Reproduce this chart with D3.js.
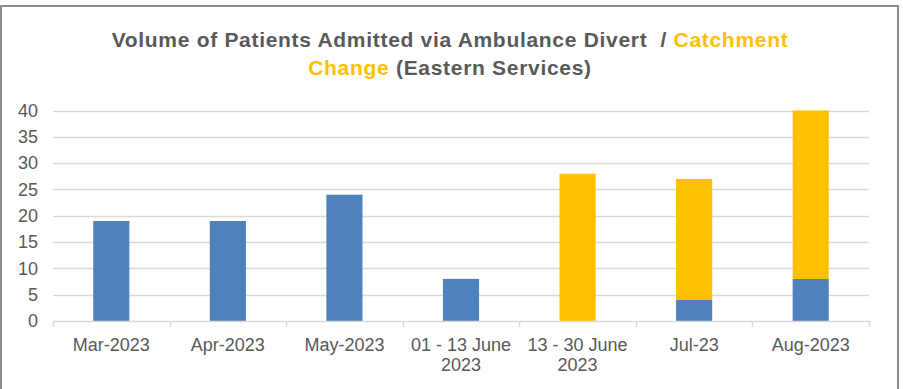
<!DOCTYPE html>
<html>
<head>
<meta charset="utf-8">
<script src="https://cdn.jsdelivr.net/npm/d3@7"></script>
<style>
  html, body { margin: 0; padding: 0; background: #fff; }
  svg { display: block; font-family: "Liberation Sans", Arial, sans-serif; }
</style>
</head>
<body>
<svg id="chart" width="903" height="389"></svg>
<script>
// Monthly admissions, split by reason
const categories = ["Mar-2023", "Apr-2023", "May-2023", "01 - 13 June 2023", "13 - 30 June 2023", "Jul-23", "Aug-2023"];
const categoryLines = [["Mar-2023"], ["Apr-2023"], ["May-2023"], ["01 - 13 June", "2023"], ["13 - 30 June", "2023"], ["Jul-23"], ["Aug-2023"]];
const ambulanceDivert = [19, 19, 24, 8, 0, 4, 8];
const catchmentChange = [0, 0, 0, 0, 28, 23, 32];
const yTicks = [0, 5, 10, 15, 20, 25, 30, 35, 40];
const seriesKeys = ["Ambulance Divert", "Catchment Change"];
const seriesColors = ["#4F81BD", "#FFC000"];

const svg = d3.select("#chart");
const textColor = "#595959";
const gridColor = "#D9D9D9";

// outer frame
svg.append("rect")
  .attr("x", 1).attr("y", 6)
  .attr("width", 897).attr("height", 400)
  .attr("fill", "none").attr("stroke", "#8C8C8C").attr("stroke-width", 2);

// title
const title = svg.append("text")
  .attr("text-anchor", "middle")
  .attr("font-weight", "bold")
  .attr("font-size", 21)
  .attr("letter-spacing", 0.7)
  .attr("fill", textColor)
  .attr("xml:space", "preserve");
const t1 = title.append("tspan").attr("x", 450).attr("y", 47);
t1.append("tspan").text("Volume of Patients Admitted via Ambulance Divert  / ");
t1.append("tspan").attr("fill", "#FFC000").text("Catchment");
const t2 = title.append("tspan").attr("x", 450).attr("y", 74.5);
t2.append("tspan").attr("fill", "#FFC000").text("Change");
t2.append("tspan").text(" (Eastern Services)");

// scales
const x = d3.scaleBand().domain(categories).range([53, 869]).paddingInner(0.69).paddingOuter(0.345);
const y = d3.scaleLinear().domain([0, 40]).range([321, 110.5]);

// gridlines
svg.append("g")
  .selectAll("line")
  .data(yTicks.filter(d => d > 0))
  .join("line")
  .attr("x1", 53).attr("x2", 869)
  .attr("y1", d => Math.round(y(d)) + 0.5).attr("y2", d => Math.round(y(d)) + 0.5)
  .attr("stroke", gridColor).attr("stroke-width", 1.5);

// y axis labels
const yAxis = d3.axisLeft(y).tickValues(yTicks).tickSize(0).tickPadding(0);
svg.append("g")
  .attr("transform", "translate(38,0)")
  .call(yAxis)
  .call(g => g.select(".domain").remove())
  .call(g => g.selectAll("text")
    .attr("font-size", 18)
    .attr("font-family", "Liberation Sans, Arial, sans-serif")
    .attr("fill", textColor));

// stacked bars
const rows = categories.map((c, i) => ({ category: c, "Ambulance Divert": ambulanceDivert[i], "Catchment Change": catchmentChange[i] }));
const stacked = d3.stack().keys(seriesKeys)(rows);
svg.append("g")
  .selectAll("g")
  .data(stacked)
  .join("g")
  .attr("fill", (d, i) => seriesColors[i])
  .selectAll("rect")
  .data(d => d.filter(p => p[1] - p[0] > 0))
  .join("rect")
  .attr("x", d => x(d.data.category))
  .attr("width", x.bandwidth())
  .attr("y", d => y(d[1]))
  .attr("height", d => y(d[0]) - y(d[1]));

// x axis line and category boundary ticks
const boundaries = d3.range(categories.length + 1).map(i => 53 + i * (869 - 53) / categories.length);
svg.append("line")
  .attr("x1", 53).attr("x2", 869)
  .attr("y1", 321.5).attr("y2", 321.5)
  .attr("stroke", gridColor).attr("stroke-width", 1.5);
svg.append("g")
  .selectAll("line")
  .data(boundaries)
  .join("line")
  .attr("x1", d => Math.round(d) + 0.5).attr("x2", d => Math.round(d) + 0.5)
  .attr("y1", 321).attr("y2", 327)
  .attr("stroke", gridColor).attr("stroke-width", 1.5);

// x axis labels
svg.append("g")
  .selectAll("text")
  .data(categories)
  .join("text")
  .attr("text-anchor", "middle")
  .attr("font-size", 18)
  .attr("fill", textColor)
  .each(function(d, i) {
    const el = d3.select(this);
    categoryLines[i].forEach((line, j) => {
      el.append("tspan")
        .attr("x", x(d) + x.bandwidth() / 2)
        .attr("y", 351 + j * 20)
        .text(line);
    });
  });
</script>
</body>
</html>
